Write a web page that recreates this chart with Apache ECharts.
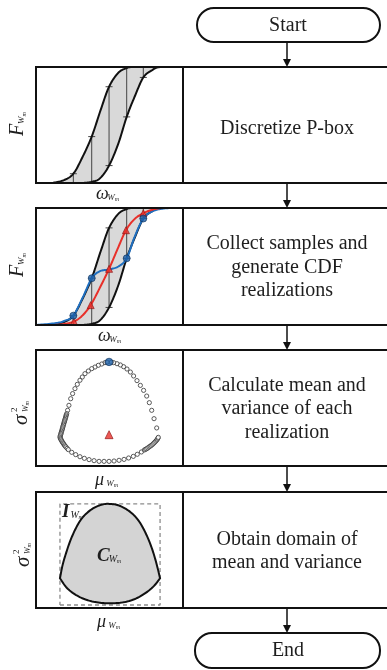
<!DOCTYPE html>
<html><head><meta charset="utf-8">
<script src="https://cdn.jsdelivr.net/npm/echarts@6/dist/echarts.min.js"></script>
<style>html,body{margin:0;padding:0;background:#fff}#c{width:387px;height:670px}</style>
</head><body><div id="c"></div>
<script>
// ---------------- data ----------------
// P-box bounds (omega, F)
const pboxUpper = [[1.1,0],[1.9,0.025],[2.54,0.08],[3.15,0.22],[3.79,0.40],[4.4,0.63],[4.97,0.83],[5.6,0.95],[6.17,0.99],[6.7,1.0],[10,1.0]];
const pboxLower = [[3.2,0],[3.79,0.01],[4.35,0.04],[4.97,0.15],[5.6,0.34],[6.17,0.57],[6.73,0.75],[7.3,0.91],[7.87,0.97],[8.44,1.0],[10,1.0]];
// discretization slices: omega, lower F, upper F, tick at lower, tick at upper
const sliceX  = [2.54, 3.79, 4.97, 6.17, 7.3];
const sliceLo = [0, 0.01, 0.15, 0.57, 0.91];
const sliceHi = [0.08, 0.40, 0.83, 0.99, 1.0];
const tickLo  = [0, 0, 1, 1, 1];
const tickHi  = [1, 1, 1, 0, 0];
// CDF realizations
const redCurve  = [[0,0],[1.0,0],[1.8,0.006],[2.58,0.03],[3.15,0.08],[3.72,0.17],[4.35,0.32],[4.97,0.48],[5.55,0.65],[6.12,0.81],[6.7,0.905],[7.3,0.955],[7.9,0.985],[8.6,1.0],[10,1.0]];
const redMarks  = [[2.58,0.03],[3.72,0.17],[4.97,0.48],[6.12,0.81],[7.3,0.955]];
const blueCurve = [[0,0],[1.3,0.015],[1.97,0.037],[2.54,0.08],[3.2,0.24],[3.79,0.40],[4.35,0.46],[4.97,0.475],[5.6,0.50],[6.17,0.57],[6.7,0.75],[7.3,0.91],[7.98,0.975],[8.66,0.995],[9.3,1.0],[10,1.0]];
const blueMarks = [[2.54,0.08],[3.79,0.40],[6.17,0.57],[7.3,0.91]];
// mean / variance of each realization (mu, sigma^2)
const realizations = [
 [4.69,8.91],[4.47,8.79],[4.24,8.68],[4.01,8.53],[3.79,8.39],[3.56,8.19],[3.33,7.96],[3.15,7.67],[2.99,7.39],[2.81,7.04],[2.65,6.67],[2.49,6.24],[2.36,5.80],[2.24,5.23],[2.15,4.80],
 [2.09,4.51],[2.06,4.41],[2.04,4.31],[2.02,4.21],[2.00,4.11],[1.97,4.01],[1.95,3.91],[1.93,3.81],[1.90,3.71],[1.88,3.61],[1.86,3.51],[1.83,3.40],[1.81,3.30],[1.79,3.20],[1.77,3.10],[1.74,3.00],[1.72,2.90],[1.70,2.80],[1.68,2.70],[1.65,2.60],[1.63,2.50],
 [1.65,2.41],[1.68,2.33],[1.71,2.25],[1.75,2.16],[1.79,2.07],[1.84,1.98],[1.88,1.90],[1.93,1.81],[1.98,1.72],[2.04,1.64],[2.12,1.52],[2.20,1.41],
 [2.43,1.18],[2.70,0.98],[2.99,0.80],[3.29,0.66],[3.61,0.55],[3.95,0.46],[4.29,0.40],[4.63,0.40],[4.97,0.40],[5.31,0.43],[5.65,0.49],[5.99,0.57],[6.30,0.69],[6.62,0.83],[6.89,1.01],[7.17,1.21],
 [7.37,1.38],[7.45,1.44],[7.53,1.49],[7.61,1.56],[7.69,1.64],[7.77,1.71],[7.85,1.78],[7.93,1.86],[8.00,1.95],[8.07,2.04],[8.14,2.13],[8.20,2.22],[8.25,2.30],[8.29,2.39],[8.32,2.47],
 [8.21,3.28],[8.03,4.08],[7.87,4.80],[7.71,5.46],[7.53,6.03],[7.32,6.52],[7.10,6.95],[6.87,7.36],[6.64,7.76],[6.42,8.10],[6.19,8.36],[5.96,8.56],[5.74,8.71],[5.51,8.82],[5.28,8.91],[5.12,8.95],[4.83,8.95]
];
const maxVarPoint = [[4.97,8.97]];
const meanRealization = [[4.97,2.70]];
// domain of mean and variance
const domainUpper = [[1.63,2.56],[1.81,3.71],[2.04,4.71],[2.31,5.72],[2.65,6.72],[3.04,7.59],[3.49,8.22],[4.01,8.68],[4.58,8.94],[5.03,8.97],[5.53,8.88],[6.05,8.59],[6.58,8.10],[7.03,7.44],[7.41,6.58],[7.76,5.57],[8.03,4.57],[8.25,3.56],[8.44,2.56]];
const domainLower = [[8.44,2.56],[7.98,1.84],[7.41,1.26],[6.73,0.78],[5.94,0.49],[5.03,0.40],[4.13,0.49],[3.33,0.75],[2.65,1.18],[2.09,1.75],[1.63,2.56]];
const intervalBox = [[1.63,0.26],[8.44,0.26],[8.44,8.97],[1.63,8.97],[1.63,0.26]];
// texts
const stepTexts = [["Discretize P-box"],["Collect samples and","generate CDF","realizations"],["Calculate mean and","variance of each","realization"],["Obtain domain of","mean and variance"]];
const startText = "Start", endText = "End";

// ---------------- layout ----------------
const SERIF = '"Liberation Serif","Times New Roman",serif';
const rows = [{top:67,h:116},{top:208,h:117},{top:350,h:116},{top:492,h:116}];
const PL = 36, PW = 147, DIV = 183, BX = 287;

const chart = echarts.init(document.getElementById('c'), null, {renderer:'canvas'});

const grids = rows.map(r => ({left:PL, top:r.top, width:PW, height:r.h, containLabel:false}));
const hidden = {axisLine:{show:false},axisTick:{show:false},axisLabel:{show:false},splitLine:{show:false}};
const xAxes = rows.map((r,i)=>Object.assign({type:'value',gridIndex:i,min:0,max:10},hidden));
const yAxes = rows.map((r,i)=>Object.assign({type:'value',gridIndex:i,min:0,max:i<2?1:10},hidden));

// Catmull-Rom sampling of pixel points (rendering only)
function spline(pts,n){
  const out=[];
  for(let i=0;i<pts.length-1;i++){
    const p0=pts[Math.max(i-1,0)],p1=pts[i],p2=pts[i+1],p3=pts[Math.min(i+2,pts.length-1)];
    for(let k=0;k<n;k++){
      const t=k/n,t2=t*t,t3=t2*t;
      const f=j=>0.5*(2*p1[j]+(-p0[j]+p2[j])*t+(2*p0[j]-5*p1[j]+4*p2[j]-p3[j])*t2+(-p0[j]+3*p1[j]-3*p2[j]+p3[j])*t3);
      out.push([f(0),f(1)]);
    }
  }
  out.push(pts[pts.length-1]);
  return out;
}
function curve(gi,data,color,width,z){
  return {type:'custom',xAxisIndex:gi,yAxisIndex:gi,z:z,clip:true,data:data,
    renderItem:(p,api)=>{
      if(p.dataIndex!==0) return null;
      return {type:'polyline',shape:{points:spline(data.map(d=>api.coord(d)),12)},style:{stroke:color,lineWidth:width,fill:null,lineJoin:'round'}};
    }};
}
function pboxSeries(gi){
  return [
    {type:'custom',xAxisIndex:gi,yAxisIndex:gi,z:2,clip:true,data:pboxUpper,
     renderItem:(p,api)=>{
       if(p.dataIndex!==0) return null;
       const up=spline(pboxUpper.map(d=>api.coord(d)),12);
       const lo=spline(pboxLower.map(d=>api.coord(d)),12).reverse();
       return {type:'polygon',shape:{points:up.concat(lo)},style:{fill:'#d9d9d9',stroke:null}};
     }},
    {type:'custom',xAxisIndex:gi,yAxisIndex:gi,z:4,
     data:sliceX.map((x,k)=>[x,sliceLo[k],sliceHi[k],tickLo[k],tickHi[k]]),
     renderItem:(p,api)=>{
       const a=api.coord([api.value(0),api.value(1)]), b=api.coord([api.value(0),api.value(2)]);
       const ch=[{type:'line',shape:{x1:a[0],y1:a[1],x2:b[0],y2:b[1]},style:{stroke:'#444',lineWidth:1}}];
       if(api.value(3)) ch.push({type:'line',shape:{x1:a[0]-3.5,y1:a[1],x2:a[0]+3.5,y2:a[1]},style:{stroke:'#444',lineWidth:1}});
       if(api.value(4)) ch.push({type:'line',shape:{x1:b[0]-3.5,y1:b[1],x2:b[0]+3.5,y2:b[1]},style:{stroke:'#444',lineWidth:1}});
       return {type:'group',children:ch};
     }},
    curve(gi,pboxUpper,'#111',2,5),
    curve(gi,pboxLower,'#111',2,5)
  ];
}

const series = [
  ...pboxSeries(0),
  ...pboxSeries(1),
  curve(1,blueCurve,'#1f6fc0',2,6),
  curve(1,redCurve,'#e8302a',2,7),
  {type:'scatter',xAxisIndex:1,yAxisIndex:1,data:redMarks,symbol:'triangle',symbolSize:7,z:8,itemStyle:{color:'#e8302a',borderColor:'#8a1010',borderWidth:0.8}},
  {type:'scatter',xAxisIndex:1,yAxisIndex:1,data:blueMarks,symbol:'circle',symbolSize:7,z:9,itemStyle:{color:'#1b5fa8',borderColor:'#0d2f5a',borderWidth:0.8}},
  {type:'scatter',xAxisIndex:2,yAxisIndex:2,data:realizations,symbol:'circle',symbolSize:4.2,z:5,itemStyle:{color:'#ffffff',borderColor:'#333',borderWidth:1}},
  {type:'scatter',xAxisIndex:2,yAxisIndex:2,data:maxVarPoint,symbol:'circle',symbolSize:7.5,z:7,itemStyle:{color:'#1b5fa8',borderColor:'#0d2f5a',borderWidth:0.8}},
  {type:'scatter',xAxisIndex:2,yAxisIndex:2,data:meanRealization,symbol:'triangle',symbolSize:8,z:7,itemStyle:{color:'#e8302a',borderColor:'#8a1010',borderWidth:0.8}},
  {type:'line',xAxisIndex:3,yAxisIndex:3,data:intervalBox,symbol:'none',z:3,lineStyle:{color:'#8c8c8c',width:1.3,type:[4,3]}},
  {type:'custom',xAxisIndex:3,yAxisIndex:3,z:4,data:domainUpper,
   renderItem:(p,api)=>{
     if(p.dataIndex!==0) return null;
     const up=spline(domainUpper.map(d=>api.coord(d)),8);
     const lo=spline(domainLower.map(d=>api.coord(d)),8);
     return {type:'polygon',shape:{points:up.concat(lo.slice(1))},style:{fill:'#d4d4d4',stroke:'#111',lineWidth:2,lineJoin:'miter'}};
   }}
];

// ---------------- graphic (flowchart) ----------------
const G = [];
const INK='#111', TXT='#1e1e1e';
function add(el){el.zlevel=1; el.z=100; if(el.children) el.children.forEach(c=>{c.zlevel=1;c.z=101;}); G.push(el);}
function arrow(y1,y2){
  add({type:'line',shape:{x1:BX,y1:y1,x2:BX,y2:y2-6},style:{stroke:INK,lineWidth:1.5}});
  add({type:'polygon',shape:{points:[[BX-4,y2-8],[BX+4,y2-8],[BX,y2]]},style:{fill:INK}});
}
add({type:'rect',shape:{x:197,y:8,width:183,height:34,r:17},style:{fill:'#fff',stroke:INK,lineWidth:2}});
add({type:'text',x:288,y:26,style:{text:startText,font:'20px '+SERIF,fill:TXT,align:'center',verticalAlign:'middle'}});
add({type:'rect',shape:{x:195,y:633,width:185,height:35,r:17},style:{fill:'#fff',stroke:INK,lineWidth:2}});
add({type:'text',x:288,y:651,style:{text:endText,font:'20px '+SERIF,fill:TXT,align:'center',verticalAlign:'middle'}});
arrow(42,67); arrow(183,208); arrow(325,350); arrow(466,492); arrow(608,633);
rows.forEach((r,i)=>{
  add({type:'rect',shape:{x:PL,y:r.top,width:400,height:r.h},style:{fill:'none',stroke:INK,lineWidth:2}});
  add({type:'line',shape:{x1:DIV,y1:r.top,x2:DIV,y2:r.top+r.h},style:{stroke:INK,lineWidth:2}});
  const lines=stepTexts[i], cy=r.top+r.h/2+(i===0?3.5:1), lh=23.5;
  lines.forEach((t,k)=>{
    add({type:'text',x:BX,y:cy+(k-(lines.length-1)/2)*lh,style:{text:t,font:'20px '+SERIF,fill:TXT,align:'center',verticalAlign:'middle'}});
  });
});
function it(sz,bold){return (bold?'italic bold ':'italic ')+sz+'px '+SERIF;}
function hLabel(x,y,main,sz,bold,subX){
  const sx = subX!=null ? subX : sz*0.62;
  add({type:'group',x:x,y:y,children:[
    {type:'text',x:0,y:0,style:{text:main,font:it(sz,bold),fill:TXT,verticalAlign:'middle'}},
    {type:'text',x:sx,y:sz*0.2,style:{text:'W',font:it(Math.round(sz*0.5),false),fill:TXT,verticalAlign:'middle'}},
    {type:'text',x:sx+sz*0.42,y:sz*0.3,style:{text:'m',font:it(Math.round(sz*0.34),false),fill:TXT,verticalAlign:'middle'}}
  ]});
}
function fLabel(cx,ys){
  add({type:'group',x:cx,y:ys,rotation:Math.PI/2,children:[
    {type:'text',x:0,y:0,style:{text:'F',font:it(20),fill:TXT,verticalAlign:'middle'}},
    {type:'text',x:12,y:4,style:{text:'W',font:it(9),fill:TXT,verticalAlign:'middle'}},
    {type:'text',x:19.5,y:6,style:{text:'m',font:it(6),fill:TXT,verticalAlign:'middle'}}
  ]});
}
function sLabel(cx,ys){
  add({type:'group',x:cx,y:ys,rotation:Math.PI/2,children:[
    {type:'text',x:0,y:0,style:{text:'σ',font:it(21),fill:TXT,verticalAlign:'middle'}},
    {type:'text',x:13,y:-6,style:{text:'2',font:'9px '+SERIF,fill:TXT,verticalAlign:'middle'}},
    {type:'text',x:13,y:5,style:{text:'W',font:it(8),fill:TXT,verticalAlign:'middle'}},
    {type:'text',x:19.5,y:6.5,style:{text:'m',font:it(6),fill:TXT,verticalAlign:'middle'}}
  ]});
}
fLabel(18,136); fLabel(18,277);
sLabel(21,425); sLabel(23,567);
hLabel(96,194,'ω',18); hLabel(98,336,'ω',18);
hLabel(95,480,'μ',18); hLabel(97,622,'μ',18);
hLabel(62,512,'I',19,true,8.5); hLabel(97,556,'C',19,true);

chart.setOption({
  animation:false,
  backgroundColor:'#fff',
  grid:grids, xAxis:xAxes, yAxis:yAxes,
  series:series,
  graphic:{elements:G}
});
</script></body></html>
